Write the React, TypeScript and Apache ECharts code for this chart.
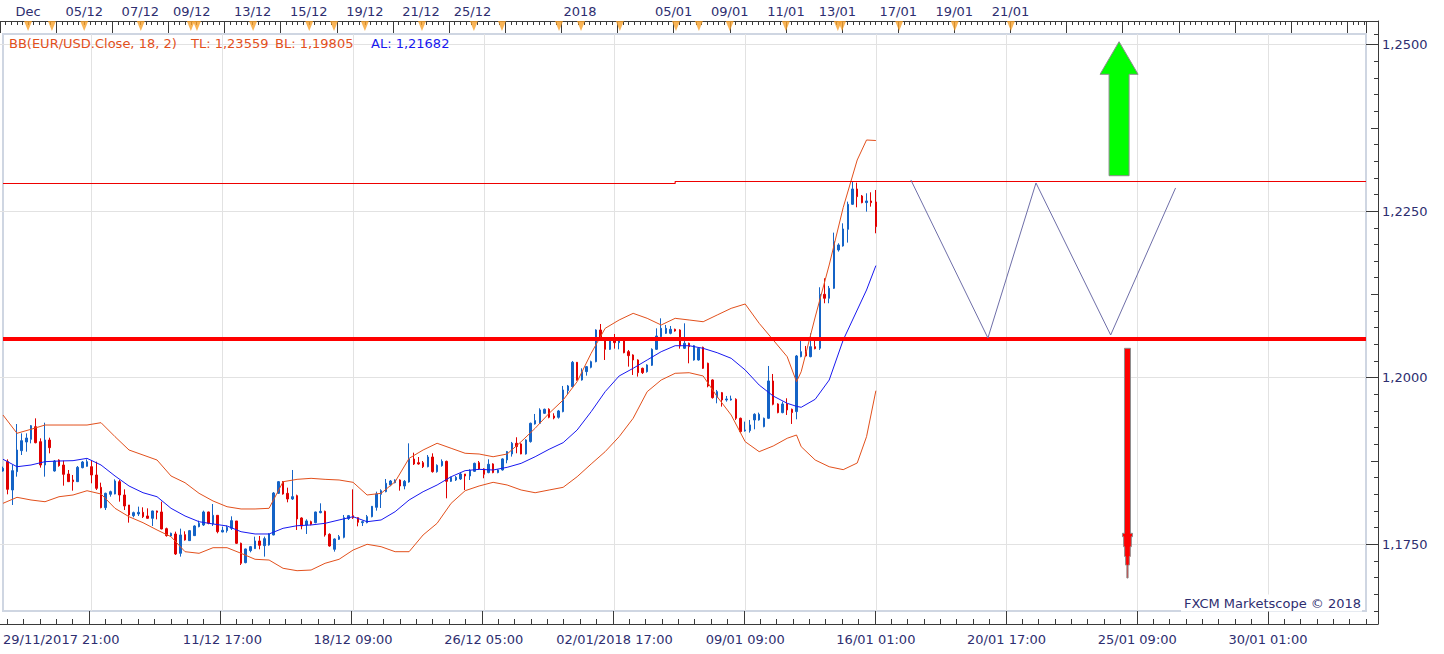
import React, { useEffect, useRef } from "react";
import * as echarts from "echarts";

// ---------- data ----------
const N_CATS = 293; // 4-hour slots across the visible window (index 0 .. 292)
const categories: string[] = Array.from({ length: N_CATS }, (_, i) => String(i));

const bottomLabelIdx = [0, 47, 75, 103, 131, 159, 187, 215, 243, 271];
const bottomLabels = [
  "29/11/2017 21:00", "11/12 17:00", "18/12 09:00", "26/12 05:00", "02/01/2018 17:00",
  "09/01 09:00", "16/01 01:00", "20/01 17:00", "25/01 09:00", "30/01 01:00",
];

const topLabelIdx = [6, 18, 30, 41, 54, 66, 78, 90, 101, 124, 144, 156, 168, 179, 192, 204, 216];
const topLabels = [
  "Dec", "05/12", "07/12", "09/12", "13/12", "15/12", "19/12", "21/12", "25/12",
  "2018", "05/01", "09/01", "11/01", "13/01", "17/01", "19/01", "21/01",
];

const eventIdx = [6, 11.1, 18, 30.1, 40.8, 42.1, 54.1, 66.1, 71.4, 78, 90.2, 101.3, 107.3, 119.5, 124.2,
  132.5, 144.5, 149.4, 156, 168, 179.1, 180, 192.2, 204.1, 216.1];

// [open, close, low, high]
const ohlc: number[][] = [
  [1.18600, 1.18640, 1.18590, 1.18665], [1.18740, 1.18325, 1.18250, 1.18775], [1.18315, 1.18605, 1.18090, 1.18690],
  [1.18590, 1.18915, 1.18515, 1.19305], [1.18905, 1.19055, 1.18840, 1.19165], [1.19035, 1.19095, 1.18890, 1.19165],
  [1.19075, 1.19280, 1.19015, 1.19290], [1.19265, 1.19025, 1.19015, 1.19390], [1.19040, 1.18690, 1.18650, 1.19090],
  [1.18690, 1.19065, 1.18515, 1.19325], [1.19065, 1.18950, 1.18865, 1.19100], [1.18600, 1.18750, 1.18590, 1.18765],
  [1.18765, 1.18680, 1.18665, 1.18775], [1.18690, 1.18550, 1.18380, 1.18755], [1.18555, 1.18440, 1.18440, 1.18615],
  [1.18465, 1.18440, 1.18305, 1.18540], [1.18440, 1.18655, 1.18435, 1.18675], [1.18650, 1.18735, 1.18640, 1.18750],
  [1.18670, 1.18740, 1.18665, 1.18775], [1.18665, 1.18540, 1.18415, 1.18765], [1.18540, 1.18340, 1.18315, 1.18740],
  [1.18355, 1.18050, 1.18040, 1.18425], [1.18050, 1.18265, 1.18015, 1.18275], [1.18250, 1.18290, 1.18215, 1.18305],
  [1.18255, 1.18450, 1.18250, 1.18475], [1.18440, 1.18240, 1.18140, 1.18465], [1.18240, 1.18075, 1.18015, 1.18325],
  [1.18090, 1.17940, 1.17825, 1.18090], [1.17930, 1.17975, 1.17905, 1.17990], [1.17955, 1.17980, 1.17925, 1.18065],
  [1.17980, 1.17915, 1.17895, 1.18055], [1.17925, 1.17890, 1.17885, 1.18040], [1.17890, 1.18000, 1.17775, 1.18005],
  [1.18000, 1.17980, 1.17875, 1.18005], [1.17985, 1.17730, 1.17725, 1.18140], [1.17735, 1.17630, 1.17615, 1.17750],
  [1.17625, 1.17665, 1.17615, 1.17675], [1.17655, 1.17355, 1.17340, 1.17690], [1.17365, 1.17640, 1.17315, 1.17735],
  [1.17645, 1.17565, 1.17555, 1.17695], [1.17555, 1.17705, 1.17550, 1.17715], [1.17630, 1.17775, 1.17625, 1.17785],
  [1.17765, 1.17815, 1.17755, 1.17855], [1.17790, 1.17985, 1.17775, 1.18005], [1.17985, 1.17815, 1.17800, 1.17990],
  [1.17805, 1.17935, 1.17775, 1.18105], [1.17935, 1.17690, 1.17665, 1.17935], [1.17685, 1.17710, 1.17680, 1.17765],
  [1.17705, 1.17755, 1.17675, 1.17780], [1.17740, 1.17855, 1.17715, 1.17920], [1.17850, 1.17515, 1.17505, 1.17850],
  [1.17515, 1.17215, 1.17190, 1.17525], [1.17225, 1.17430, 1.17215, 1.17435], [1.17405, 1.17465, 1.17380, 1.17475],
  [1.17435, 1.17550, 1.17430, 1.17615], [1.17550, 1.17485, 1.17425, 1.17625], [1.17480, 1.17585, 1.17315, 1.17615],
  [1.17490, 1.17655, 1.17480, 1.17665], [1.17640, 1.18270, 1.17635, 1.18285], [1.18265, 1.18440, 1.18255, 1.18450],
  [1.18440, 1.18255, 1.18245, 1.18450], [1.18265, 1.18180, 1.18130, 1.18350], [1.18180, 1.18215, 1.18165, 1.18615],
  [1.18230, 1.17880, 1.17715, 1.18245], [1.17895, 1.17775, 1.17725, 1.17905], [1.17790, 1.17850, 1.17655, 1.17875],
  [1.17840, 1.17800, 1.17785, 1.17855], [1.17825, 1.17985, 1.17815, 1.17990], [1.17975, 1.17995, 1.17965, 1.18115],
  [1.17995, 1.17640, 1.17615, 1.18005], [1.17650, 1.17475, 1.17465, 1.17665], [1.17425, 1.17580, 1.17390, 1.17590],
  [1.17575, 1.17615, 1.17565, 1.17640], [1.17605, 1.17900, 1.17590, 1.17940], [1.17885, 1.17930, 1.17865, 1.17940],
  [1.17930, 1.17900, 1.17880, 1.18325], [1.17900, 1.17830, 1.17770, 1.17905], [1.17825, 1.17840, 1.17775, 1.17855],
  [1.17825, 1.17915, 1.17815, 1.17940], [1.17915, 1.18070, 1.17905, 1.18075], [1.18055, 1.18255, 1.18005, 1.18290],
  [1.18250, 1.18305, 1.18045, 1.18325], [1.18290, 1.18415, 1.18280, 1.18480], [1.18390, 1.18450, 1.18370, 1.18465],
  [1.18425, 1.18465, 1.18415, 1.18475], [1.18465, 1.18375, 1.18305, 1.18475], [1.18375, 1.18445, 1.18325, 1.18465],
  [1.18435, 1.18780, 1.18425, 1.19015], [1.18780, 1.18705, 1.18690, 1.18875], [1.18725, 1.18705, 1.18695, 1.18810],
  [1.18725, 1.18665, 1.18645, 1.18750], [1.18665, 1.18810, 1.18655, 1.18840], [1.18810, 1.18590, 1.18575, 1.18865],
  [1.18590, 1.18685, 1.18575, 1.18700], [1.18680, 1.18745, 1.18665, 1.18775], [1.18745, 1.18445, 1.18190, 1.18755],
  [1.18445, 1.18505, 1.18435, 1.18515], [1.18465, 1.18505, 1.18450, 1.18525], [1.18480, 1.18555, 1.18465, 1.18575],
  [1.18555, 1.18525, 1.18315, 1.18555], [1.18525, 1.18610, 1.18465, 1.18625], [1.18595, 1.18715, 1.18585, 1.18725],
  [1.18725, 1.18630, 1.18615, 1.18750], [1.18631, 1.18551, 1.18491, 1.18641], [1.18576, 1.18701, 1.18566, 1.18776],
  [1.18706, 1.18576, 1.18566, 1.18716], [1.18576, 1.18616, 1.18566, 1.18626], [1.18616, 1.18781, 1.18606, 1.18791],
  [1.18766, 1.18891, 1.18716, 1.18901], [1.18856, 1.19016, 1.18816, 1.19036], [1.19016, 1.18966, 1.18866, 1.19106],
  [1.19006, 1.18856, 1.18851, 1.19016], [1.18856, 1.19066, 1.18846, 1.19076], [1.19041, 1.19316, 1.19026, 1.19326],
  [1.19306, 1.19356, 1.19296, 1.19456], [1.19316, 1.19516, 1.19306, 1.19541], [1.19466, 1.19526, 1.19456, 1.19536],
  [1.19526, 1.19406, 1.19391, 1.19541], [1.19426, 1.19396, 1.19376, 1.19466], [1.19406, 1.19501, 1.19386, 1.19516],
  [1.19491, 1.19816, 1.19481, 1.19876], [1.19806, 1.19876, 1.19751, 1.19891], [1.19866, 1.20231, 1.19856, 1.20251],
  [1.20231, 1.19966, 1.19956, 1.20236], [1.19966, 1.20091, 1.19956, 1.20141], [1.20091, 1.20166, 1.20031, 1.20176],
  [1.20156, 1.20241, 1.20141, 1.20256], [1.20241, 1.20716, 1.20231, 1.20726], [1.20716, 1.20591, 1.20566, 1.20806],
  [1.20576, 1.20426, 1.20266, 1.20586], [1.20426, 1.20576, 1.20416, 1.20586], [1.20551, 1.20526, 1.20436, 1.20656],
  [1.20526, 1.20551, 1.20426, 1.20576], [1.20551, 1.20376, 1.20366, 1.20566], [1.20391, 1.20331, 1.20166, 1.20416],
  [1.20341, 1.20266, 1.20041, 1.20351], [1.20266, 1.20076, 1.20016, 1.20276], [1.20141, 1.20076, 1.20056, 1.20151],
  [1.20091, 1.20191, 1.20076, 1.20201], [1.20186, 1.20426, 1.20176, 1.20441], [1.20426, 1.20626, 1.20416, 1.20741],
  [1.20616, 1.20741, 1.20606, 1.20891], [1.20666, 1.20741, 1.20656, 1.20791], [1.20666, 1.20726, 1.20651, 1.20776],
  [1.20726, 1.20701, 1.20691, 1.20736], [1.20716, 1.20476, 1.20436, 1.20726], [1.20441, 1.20516, 1.20431, 1.20816],
  [1.20516, 1.20466, 1.20216, 1.20526], [1.20266, 1.20481, 1.20256, 1.20491], [1.20266, 1.20441, 1.20256, 1.20451],
  [1.20456, 1.20141, 1.20131, 1.20466], [1.20216, 1.19876, 1.19856, 1.20226], [1.19966, 1.19701, 1.19686, 1.19976],
  [1.19701, 1.19791, 1.19616, 1.19816], [1.19776, 1.19666, 1.19566, 1.19786], [1.19666, 1.19681, 1.19641, 1.19726],
  [1.19666, 1.19681, 1.19656, 1.19731], [1.19676, 1.19391, 1.19366, 1.19691], [1.19391, 1.19191, 1.19176, 1.19401],
  [1.19201, 1.19216, 1.19191, 1.19341], [1.19206, 1.19291, 1.19176, 1.19366], [1.19366, 1.19451, 1.19226, 1.19466],
  [1.19366, 1.19451, 1.19356, 1.19476], [1.19266, 1.19391, 1.19256, 1.19401], [1.19391, 1.19951, 1.19381, 1.20176],
  [1.19951, 1.19601, 1.19586, 1.20056], [1.19606, 1.19476, 1.19466, 1.19616], [1.19476, 1.19606, 1.19466, 1.19641],
  [1.19606, 1.19516, 1.19441, 1.19691], [1.19526, 1.19476, 1.19306, 1.19536], [1.19491, 1.20326, 1.19376, 1.20341],
  [1.20316, 1.20391, 1.20306, 1.20566], [1.20391, 1.20326, 1.20316, 1.20476], [1.20316, 1.20466, 1.20306, 1.20666],
  [1.20466, 1.20436, 1.20426, 1.20591], [1.20442, 1.21252, 1.20417, 1.21357], [1.21252, 1.21192, 1.21117, 1.21492],
  [1.21192, 1.21342, 1.21117, 1.21377], [1.21342, 1.22042, 1.21332, 1.22177], [1.21917, 1.21992, 1.21892, 1.22017],
  [1.21977, 1.22232, 1.21967, 1.22317], [1.22227, 1.22602, 1.22027, 1.22642], [1.22602, 1.22832, 1.22592, 1.22942],
  [1.22832, 1.22717, 1.22557, 1.22927], [1.22727, 1.22627, 1.22617, 1.22742], [1.22627, 1.22652, 1.22492, 1.22767],
  [1.22652, 1.22627, 1.22567, 1.22782], [1.22637, 1.22267, 1.22167, 1.22817],
];

// Bollinger band readings (18, 2) at these slot indices
const bandIdx = [0, 3, 6, 9, 12, 15, 18, 21, 24, 27, 30, 33, 36, 39, 42, 45, 48, 51, 54, 57, 60, 63, 66, 69, 72,
  75, 78, 81, 84, 87, 90, 93, 96, 99, 102, 105, 108, 111, 114, 117, 120, 123, 126, 129, 132, 135, 138, 141, 144,
  147, 150, 153, 156, 159, 162, 165, 168, 170, 171, 174, 177, 180, 183, 185, 187];
const upperBand = [1.19440, 1.19166, 1.19226, 1.19290, 1.19290, 1.19290, 1.19290, 1.19325, 1.19115, 1.18915,
  1.18840, 1.18765, 1.18525, 1.18424, 1.18265, 1.18150, 1.18064, 1.18030, 1.18030, 1.18040, 1.18439, 1.18475,
  1.18490, 1.18475, 1.18465, 1.18430, 1.18240, 1.18265, 1.18439, 1.18790, 1.18915, 1.19016, 1.18941, 1.18866,
  1.18855, 1.18814, 1.18855, 1.19040, 1.19241, 1.19466, 1.19665, 1.19940, 1.20366, 1.20741, 1.20866, 1.20966,
  1.20891, 1.20791, 1.20891, 1.20866, 1.20840, 1.20941, 1.21041, 1.21106, 1.20816, 1.20566, 1.20315, 1.19940,
  1.20090, 1.20910, 1.21691, 1.22554, 1.23267, 1.23567, 1.23559];
const middleBand = [1.18776, 1.18664, 1.18690, 1.18740, 1.18750, 1.18755, 1.18790, 1.18690, 1.18525, 1.18375,
  1.18274, 1.18214, 1.18040, 1.17925, 1.17839, 1.17805, 1.17775, 1.17689, 1.17655, 1.17655, 1.17740, 1.17779,
  1.17790, 1.17815, 1.17865, 1.17914, 1.17839, 1.17865, 1.17989, 1.18165, 1.18289, 1.18390, 1.18514, 1.18605,
  1.18625, 1.18615, 1.18655, 1.18715, 1.18814, 1.18926, 1.19025, 1.19215, 1.19490, 1.19790, 1.20026, 1.20141,
  1.20266, 1.20390, 1.20480, 1.20480, 1.20441, 1.20375, 1.20291, 1.20116, 1.19890, 1.19725, 1.19616, 1.19570,
  1.19556, 1.19676, 1.19965, 1.20566, 1.21016, 1.21316, 1.21682];
const lowerBand = [1.18115, 1.18205, 1.18165, 1.18139, 1.18214, 1.18240, 1.18304, 1.18255, 1.18040, 1.17914,
  1.17824, 1.17715, 1.17614, 1.17389, 1.17365, 1.17449, 1.17449, 1.17365, 1.17275, 1.17264, 1.17140, 1.17104,
  1.17114, 1.17215, 1.17275, 1.17414, 1.17500, 1.17464, 1.17389, 1.17389, 1.17640, 1.17815, 1.18115, 1.18304,
  1.18375, 1.18430, 1.18390, 1.18315, 1.18274, 1.18315, 1.18355, 1.18514, 1.18705, 1.18890, 1.19115, 1.19391,
  1.19790, 1.19965, 1.20066, 1.20075, 1.20026, 1.19715, 1.19440, 1.19040, 1.18890, 1.18975, 1.19091, 1.19140,
  1.18965, 1.18765, 1.18664, 1.18620, 1.18720, 1.19115, 1.19805];

// drawn levels
const resistanceLeft = 1.229142;
const resistanceRight = 1.229442;
const resistanceStepIdx = 144;
const supportLevel = 1.20581;

// projected zig-zag path
const zigzagX = [194.5, 211, 221.3, 237.3, 251.2];
const zigzagY = [1.22967, 1.20596, 1.22922, 1.20641, 1.22847];

// arrows: [slot, tip price, neck price, tail price, kind(0 up / 1 down)]
const arrowData = [
  [239.1, 1.25042, 1.24553, 1.23031, 0],
  [240.9, 1.16994, 1.17665, 1.20441, 1],
];

// ---------- styling ----------
const FONT = '"DejaVu Sans", Verdana, sans-serif';
const AXIS_COLOR = "#3a3a3a";
const LABEL_COLOR = "#2e2e70";
const GRID_COLOR = "#e2e2e2";
const BORDER_COLOR = "#cfd6e2";
const BULL = "#1463c6";
const BEAR = "#e00000";
const BAND_COLOR = "#e2501c";
const MID_COLOR = "#1818f0";

const PLOT_W = 1366;
const UNIT = PLOT_W / (N_CATS - 1);
const Y_MIN = 1.165;
const Y_MAX = 1.251576;
const PX_PER_PRICE = 6664;

const fmt = (v: number, d: number) => v.toFixed(d).replace(".", ",");

function buildOption(): any {
  const last = ohlc[ohlc.length - 1];
  const lastClose = last[1];
  const lastB = bandIdx.length - 1;
  const hiddenVal = (grid: number, extra: any = {}) => ({
    type: "value", gridIndex: grid, show: false, min: 0, max: 1, axisLine: { onZero: false }, ...extra,
  });
  const tickAxis = (grid: number, pos: string, max: number, interval: number, len: number) => ({
    type: "value", gridIndex: grid, position: pos, min: 0, max, interval,
    axisLine: { show: false, onZero: false },
    axisTick: { show: true, inside: true, length: len, lineStyle: { color: AXIS_COLOR, width: 1 } },
    axisLabel: { show: false }, splitLine: { show: false },
  });

  return {
    animation: false,
    backgroundColor: "#ffffff",
    textStyle: { fontFamily: FONT },
    grid: [
      { left: 0, top: 34, width: PLOT_W, height: (Y_MAX - Y_MIN) * PX_PER_PRICE, show: true, borderColor: BORDER_COLOR, borderWidth: 2, backgroundColor: "transparent" },
      { left: 0, top: 44.5, width: PLOT_W, height: 0.075 * PX_PER_PRICE },
      { left: 0, top: 21, width: 1378, height: 603 },
      { left: 0, top: 21, width: PLOT_W, height: 13 },
      { left: 1.5 * UNIT, top: 611, width: 290.5 * UNIT, height: 13 },
      { left: 19 * UNIT, top: 611, width: 252 * UNIT, height: 13 },
    ],
    xAxis: [
      {
        type: "category", gridIndex: 0, data: categories, boundaryGap: false,
        axisLine: { show: false, onZero: false }, axisTick: { show: false },
        axisLabel: {
          show: true, margin: 22, color: LABEL_COLOR, fontSize: 13, fontFamily: FONT,
          alignMinLabel: "left",
          interval: (i: number) => bottomLabelIdx.indexOf(i) >= 0,
          formatter: (_v: string, i: number) => {
            const k = bottomLabelIdx.indexOf(i);
            return k >= 0 ? bottomLabels[k] : "";
          },
        },
        splitLine: { show: true, interval: (i: number) => i >= 19 && (i - 19) % 28 === 0, lineStyle: { color: GRID_COLOR, width: 1 } },
      },
      { type: "value", gridIndex: 0, show: false, min: 0, max: N_CATS - 1, axisLine: { onZero: false } },
      hiddenVal(1),
      {
        type: "value", gridIndex: 2, position: "bottom", min: 0, max: 1,
        axisLine: { show: true, onZero: false, lineStyle: { color: AXIS_COLOR, width: 1 } },
        axisTick: { show: false }, axisLabel: { show: false }, splitLine: { show: false },
      },
      {
        type: "value", gridIndex: 2, position: "top", min: 0, max: 1,
        axisLine: { show: true, onZero: false, lineStyle: { color: AXIS_COLOR, width: 1 } },
        axisTick: { show: false }, axisLabel: { show: false }, splitLine: { show: false },
      },
      {
        type: "category", gridIndex: 3, position: "top", data: categories, boundaryGap: false,
        axisLine: { show: false, onZero: false }, axisTick: { show: false },
        axisLabel: {
          show: true, margin: 3, color: LABEL_COLOR, fontSize: 13, fontFamily: FONT,
          interval: (i: number) => topLabelIdx.indexOf(i) >= 0,
          formatter: (_v: string, i: number) => {
            const k = topLabelIdx.indexOf(i);
            return k >= 0 ? topLabels[k] : "";
          },
        },
        splitLine: { show: false },
      },
      tickAxis(3, "top", N_CATS - 1, 1.2, 4),
      tickAxis(3, "top", N_CATS - 1, 12, 12),
      tickAxis(4, "bottom", 290.5, 3.5, 5),
      tickAxis(5, "bottom", 252, 28, 13),
    ],
    yAxis: [
      {
        type: "value", gridIndex: 0, position: "right", offset: 12, min: Y_MIN, max: Y_MAX, interval: 0.0025,
        axisLine: { show: false, onZero: false },
        axisTick: { show: true, inside: true, length: 4, lineStyle: { color: AXIS_COLOR } },
        axisLabel: { show: false }, splitLine: { show: false },
      },
      {
        type: "value", gridIndex: 1, position: "right", offset: 12, min: 1.175, max: 1.25, interval: 0.025,
        axisLine: { show: false, onZero: false },
        axisTick: { show: true, inside: true, length: 12, lineStyle: { color: AXIS_COLOR } },
        minorTick: { show: true, splitNumber: 2, length: 7, lineStyle: { color: AXIS_COLOR } },
        axisLabel: { show: true, margin: 4, color: LABEL_COLOR, fontSize: 13, fontFamily: FONT, formatter: (v: number) => fmt(v, 4) },
        splitLine: { show: true, lineStyle: { color: GRID_COLOR, width: 1 } },
      },
      {
        type: "value", gridIndex: 2, position: "right", min: 0, max: 1,
        axisLine: { show: true, onZero: false, lineStyle: { color: AXIS_COLOR, width: 1 } },
        axisTick: { show: false }, axisLabel: { show: false }, splitLine: { show: false },
      },
      hiddenVal(3),
      hiddenVal(4),
      hiddenVal(5),
    ],
    series: [
      {
        type: "candlestick", xAxisIndex: 0, yAxisIndex: 0, barWidth: 2, silent: true, z: 3,
        itemStyle: { color: BULL, color0: BEAR, borderColor: BULL, borderColor0: BEAR, borderWidth: 1 },
        data: ohlc,
        markLine: {
          silent: true, symbol: ["none", "none"], animation: false,
          lineStyle: { opacity: 0 },
          label: {
            show: true, position: "end", distance: 12, formatter: fmt(lastClose, 5),
            backgroundColor: "#5cc6f6", color: "#111111", padding: [3, 2, 2, 2], fontSize: 13, fontFamily: FONT,
          },
          data: [{ yAxis: lastClose }],
        },
      },
      {
        type: "line", xAxisIndex: 1, yAxisIndex: 0, symbol: "none", silent: true, z: 4,
        lineStyle: { color: BAND_COLOR, width: 1 },
        data: bandIdx.map((x, k) => [x, upperBand[k]]),
      },
      {
        type: "line", xAxisIndex: 1, yAxisIndex: 0, symbol: "none", silent: true, z: 4,
        lineStyle: { color: MID_COLOR, width: 1 },
        data: bandIdx.map((x, k) => [x, middleBand[k]]),
      },
      {
        type: "line", xAxisIndex: 1, yAxisIndex: 0, symbol: "none", silent: true, z: 4,
        lineStyle: { color: BAND_COLOR, width: 1 },
        data: bandIdx.map((x, k) => [x, lowerBand[k]]),
      },
      {
        type: "line", xAxisIndex: 1, yAxisIndex: 0, symbol: "none", silent: true, z: 5,
        lineStyle: { color: "#ee0000", width: 1.2 },
        data: [[0, resistanceLeft], [resistanceStepIdx, resistanceLeft], [resistanceStepIdx, resistanceRight], [N_CATS - 1, resistanceRight]],
      },
      {
        type: "line", xAxisIndex: 1, yAxisIndex: 0, symbol: "none", silent: true, z: 5,
        lineStyle: { color: "#ff0000", width: 4 },
        data: [[0, supportLevel], [N_CATS - 1, supportLevel]],
      },
      {
        type: "line", xAxisIndex: 1, yAxisIndex: 0, symbol: "none", silent: true, z: 5,
        lineStyle: { color: "#6e6ea8", width: 1 },
        data: zigzagX.map((x, k) => [x, zigzagY[k]]),
      },
      {
        type: "custom", xAxisIndex: 1, yAxisIndex: 0, silent: true, z: 6,
        encode: { x: 0, y: [1, 2, 3] },
        data: arrowData,
        renderItem: (_p: any, api: any) => {
          const x = api.value(0);
          const pTip = api.coord([x, api.value(1)]);
          const pNeck = api.coord([x, api.value(2)]);
          const pTail = api.coord([x, api.value(3)]);
          const kind = api.value(4);
          const cx = pTip[0];
          let pts: number[][];
          let fill: string;
          if (kind === 0) {
            const hw = 19, sw = 10;
            pts = [
              [cx - sw, pTail[1]], [cx + sw, pTail[1]], [cx + sw, pNeck[1]], [cx + hw, pNeck[1]],
              [cx, pTip[1]], [cx - hw, pNeck[1]], [cx - sw, pNeck[1]],
            ];
            fill = "#00ff00";
          } else {
            const ny = pNeck[1];
            const L = pTip[1] - ny;
            const steps = [[5, 0], [5, 0.076], [3.85, 0.076], [3.85, 0.3], [2.85, 0.3], [2.85, 0.52], [1.85, 0.52], [1.85, 0.71], [0.6, 0.71], [0.6, 1]];
            const right = steps.map(([hw, f]) => [cx + hw, ny + f * L]);
            const left = steps.slice().reverse().map(([hw, f]) => [cx - hw, ny + f * L]);
            pts = [[cx - 3, pTail[1]], [cx + 3, pTail[1]], [cx + 3, ny], ...right, ...left, [cx - 3, ny]];
            fill = "#ff0000";
          }
          return { type: "polygon", shape: { points: pts }, style: { fill, stroke: "#8c8c8c", lineWidth: 1 } };
        },
      },
      {
        type: "scatter", xAxisIndex: 6, yAxisIndex: 3, silent: true, z: 6,
        symbol: "triangle", symbolRotate: 180, symbolSize: [8, 10],
        itemStyle: { color: "#f7a12c" },
        data: eventIdx.map((x) => [x, 0.62]),
      },
    ],
    graphic: [
      { type: "text", x: 9, y: 43, z: 10, style: { text: "BB(EUR/USD.Close, 18, 2)", fill: BAND_COLOR, font: `13px ${FONT}`, verticalAlign: "middle" } },
      { type: "text", x: 191, y: 43, z: 10, style: { text: `TL: ${fmt(upperBand[lastB], 5)}`, fill: BAND_COLOR, font: `13px ${FONT}`, verticalAlign: "middle" } },
      { type: "text", x: 275, y: 43, z: 10, style: { text: `BL: ${fmt(lowerBand[lastB], 5)}`, fill: BAND_COLOR, font: `13px ${FONT}`, verticalAlign: "middle" } },
      { type: "text", x: 371, y: 43, z: 10, style: { text: `AL: ${fmt(middleBand[lastB], 5)}`, fill: MID_COLOR, font: `13px ${FONT}`, verticalAlign: "middle" } },
      {
        type: "text", x: 1362, y: 603, z: 10,
        style: {
          text: "FXCM Marketscope © 2018", fill: LABEL_COLOR, font: `13px ${FONT}`, align: "right", verticalAlign: "middle",
          backgroundColor: "#ffffff", padding: [2, 1, 2, 3],
        },
      },
    ],
  };
}

export default function App() {
  const ref = useRef<HTMLDivElement>(null);
  useEffect(() => {
    if (!ref.current) return;
    const chart = echarts.init(ref.current, null, { renderer: "svg" });
    chart.setOption(buildOption());
    return () => chart.dispose();
  }, []);
  return (
    <div
      ref={ref}
      style={{ position: "absolute", left: 0, top: 0, width: 1444, height: 654, background: "#ffffff" }}
    />
  );
}
